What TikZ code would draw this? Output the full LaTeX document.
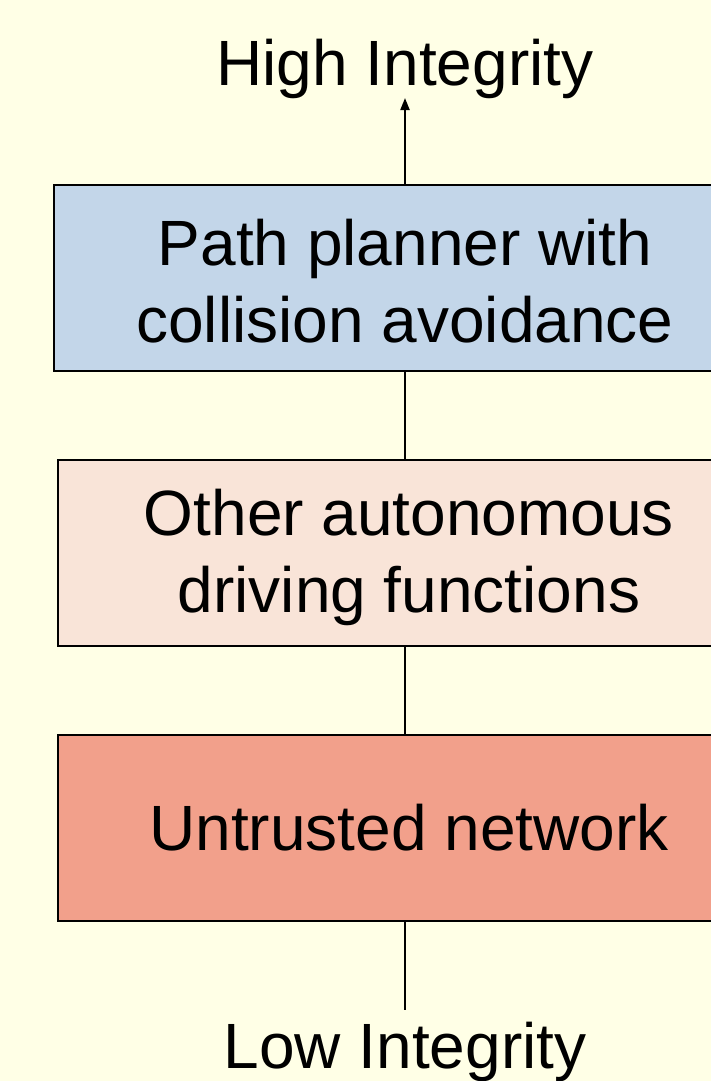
\documentclass[tikz,border=0pt]{standalone}
\usepackage{fontspec}
\setmainfont{Liberation Sans}
\usetikzlibrary{arrows.meta}
\definecolor{pagebg}{RGB}{255,255,230}
\definecolor{plannerfill}{RGB}{195,214,233}
\definecolor{otherfill}{RGB}{249,228,216}
\definecolor{netfill}{RGB}{242,160,139}
\tikzset{
  layer/.style={draw=black, line width=2.6pt, rectangle, inner sep=0pt,
    minimum height=186pt},
  layertext/.style={inner sep=0pt, align=center,
    font=\fontsize{64}{77}\selectfont},
  level/.style={anchor=base, inner sep=0pt, font=\fontsize{64}{77}\selectfont},
  link/.style={draw=black, line width=2pt},
}
\begin{document}
\begin{tikzpicture}[x=1pt, y=-1pt]
  \fill[pagebg] (0,0) rectangle (711,1081);
  \useasboundingbox (0,0) rectangle (711,1081);
  \clip (0,0) rectangle (711,1081);

  % the three layers, from high to low integrity
  \node[layer, fill=plannerfill, minimum width=702pt] (planner) at (405,278) {};
  \node[layer, fill=otherfill, minimum width=702pt] (other) at (409,553) {};
  \node[layer, fill=netfill, minimum width=702pt] (net) at (409,828) {};

  \node[layertext] (plannertext) at ([yshift=-3pt]planner.center)
    {Path planner with\\collision avoidance};
  \node[layertext] (othertext) at ([yshift=-4pt]other.center)
    {Other autonomous\\driving functions};
  \node[layertext] (nettext) at (net.center) {Untrusted network};

  \node[level] (high) at (405,85) {High Integrity};
  \node[level] (low) at (405,1068) {Low Integrity};

  \coordinate (hightip) at (405,98);
  \coordinate (lowend) at (405,1010);

  \draw[link, -{Triangle[length=12pt,width=9pt]}] (planner.north -| hightip) -- (hightip);
  \draw[link] (planner.south -| hightip) -- (other.north -| hightip);
  \draw[link] (other.south -| hightip) -- (net.north -| hightip);
  \draw[link] (net.south -| lowend) -- (lowend);
\end{tikzpicture}
\end{document}
